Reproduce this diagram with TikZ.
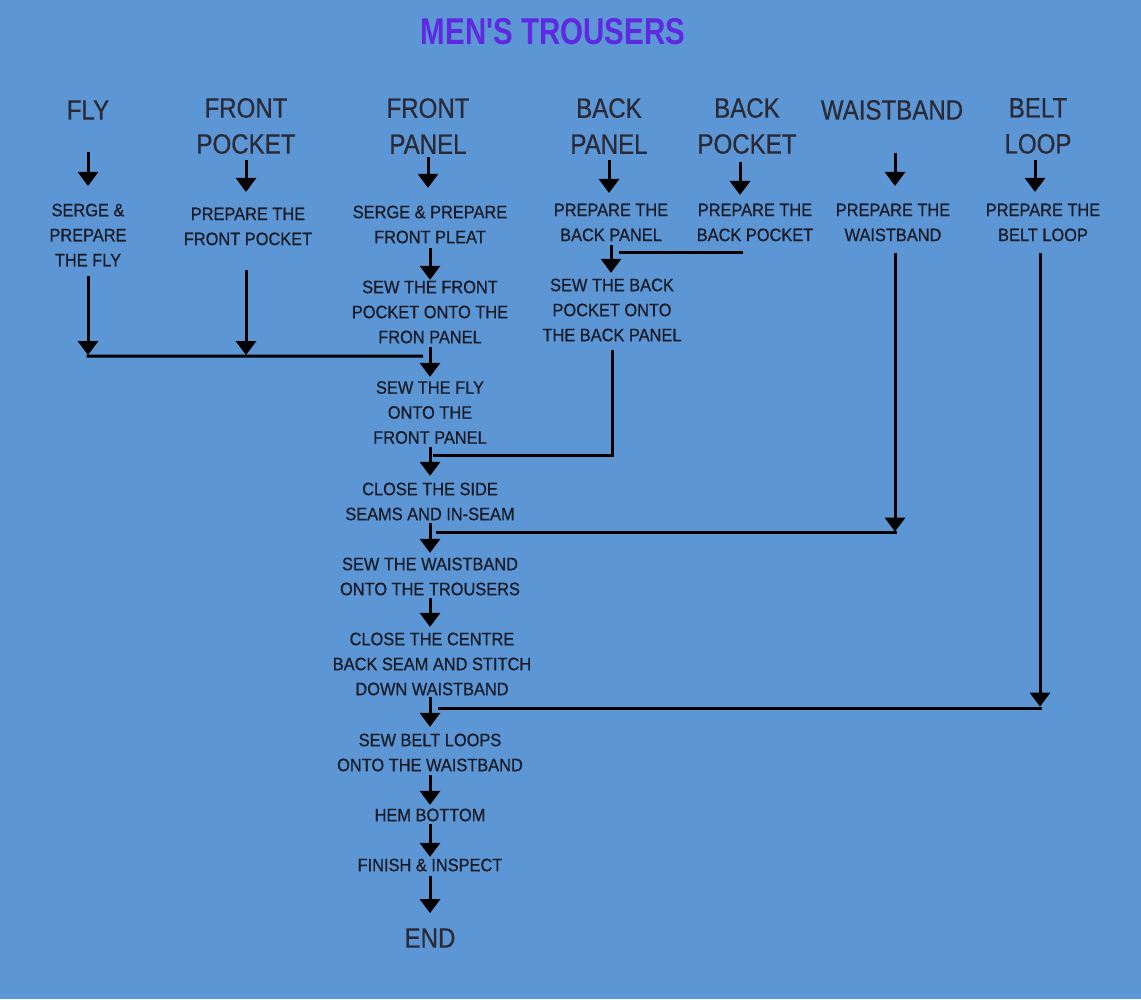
\documentclass[tikz,border=0pt]{standalone}
\usepackage{fontspec}
\usetikzlibrary{arrows.meta,calc}
\newfontfamily\stepfont[FakeStretch=0.91,FakeBold=0.6]{Liberation Sans}
\newfontfamily\headfont[FakeStretch=0.86,FakeBold=0.5]{Liberation Sans}
\newfontfamily\titlefont[FakeStretch=0.79]{Liberation Sans}
\definecolor{bg}{RGB}{92,150,212}
\definecolor{ink}{RGB}{24,26,38}
\definecolor{headink}{RGB}{42,42,54}
\definecolor{titlecol}{RGB}{95,40,225}
\begin{document}
\begin{tikzpicture}[x=0.75pt,y=-0.75pt,
  stepbox/.style={inner sep=0pt, align=center, text=ink,
    font=\stepfont\fontsize{13.5}{18.75}\selectfont},
  headbox/.style={inner sep=0pt, align=center, text=headink,
    font=\headfont\fontsize{21}{27}\selectfont},
  titlebox/.style={inner sep=0pt, text=titlecol,
    font=\titlefont\bfseries\fontsize{28}{32}\selectfont},
  arr/.style={draw=black, line width=2.25pt, -{Triangle[width=15pt,length=10.5pt]}},
  ln/.style={draw=black, line width=2.25pt}]
\fill[bg] (0,0) rectangle (1141,999);
\useasboundingbox (0,0) rectangle (1141,999);

% title
\node[titlebox] (title) at (553,32) {MEN'S TROUSERS};

% headers
\node[headbox] (hfly)  at (88,110)  {FLY};
\node[headbox] (hfp)   at (246,126) {FRONT\\POCKET};
\node[headbox] (hfpan) at (428,126) {FRONT\\PANEL};
\node[headbox] (hbp)   at (609,126) {BACK\\PANEL};
\node[headbox] (hbpk)  at (747,126) {BACK\\POCKET};
\node[headbox] (hwb)   at (892,110) {WAISTBAND};
\node[headbox] (hbl)   at (1038,126) {BELT\\LOOP};

% preparation steps
\node[stepbox] (sfly)   at (88,235)    {SERGE \&\\PREPARE\\THE FLY};
\node[stepbox] (sfp)    at (248,226.5) {PREPARE THE\\FRONT POCKET};
\node[stepbox] (spleat) at (430,224.5) {SERGE \& PREPARE\\FRONT PLEAT};
\node[stepbox] (sbp)    at (611,222.5) {PREPARE THE\\BACK PANEL};
\node[stepbox] (sbpk)   at (755,222.5) {PREPARE THE\\BACK POCKET};
\node[stepbox] (swb)    at (893,222.5) {PREPARE THE\\WAISTBAND};
\node[stepbox] (sbl)    at (1043,222.5) {PREPARE THE\\BELT LOOP};

% assembly steps
\node[stepbox] (sewfp)  at (430,312)   {SEW THE FRONT\\POCKET ONTO THE\\FRON PANEL};
\node[stepbox] (sewbp)  at (612,310)   {SEW THE BACK\\POCKET ONTO\\THE BACK PANEL};
\node[stepbox] (sewfly) at (430,412.5) {SEW THE FLY\\ONTO THE\\FRONT PANEL};
\node[stepbox] (close)  at (430,501.5) {CLOSE THE SIDE\\SEAMS AND IN-SEAM};
\node[stepbox] (sewwb)  at (430,576.5) {SEW THE WAISTBAND\\ONTO THE TROUSERS};
\node[stepbox] (centre) at (432,664)   {CLOSE THE CENTRE\\BACK SEAM AND STITCH\\DOWN WAISTBAND};
\node[stepbox] (belt)   at (430,752.5) {SEW BELT LOOPS\\ONTO THE WAISTBAND};
\node[stepbox] (hem)    at (430,815)   {HEM BOTTOM};
\node[stepbox] (finish) at (430,865)   {FINISH \& INSPECT};
\node[headbox] (end)    at (430,938)   {END};

% header arrows
\draw[arr] ($(hfly.south)+(0,32)$) -- ($(hfly.south |- sfly.north)+(0,-17.5)$);
\draw[arr] ($(hfp.south)+(0,6)$) -- ($(hfp.south |- sfp.north)+(0,-15.5)$);
\draw[arr] ($(hfpan.south)+(0,3)$) -- ($(hfpan.south |- spleat.north)+(0,-17.5)$);
\draw[arr] ($(hbp.south)+(0,6)$) -- ($(hbp.south |- sbp.north)+(0,-10.5)$);
\draw[arr] ($(hbpk.south)+(-7,8)$) -- ($(hbpk.south |- sbpk.north)+(-7,-8.5)$);
\draw[arr] ($(hwb.south)+(3,33)$) -- ($(hwb.south |- swb.north)+(3,-17.5)$);
\draw[arr] ($(hbl.south)+(-3,6)$) -- ($(hbl.south |- sbl.north)+(-3,-11.5)$);

% front panel chain
\draw[arr] ($(spleat.south)+(0,4.5)$) -- ($(sewfp.north)+(0,-0.5)$);
\draw[arr] ($(sfly.south)+(0,9.5)$) -- ($(sfly.south)+(0,88.5)$);
\draw[arr] ($(sfp.south)+(-2,24.5)$) -- ($(sfp.south)+(-2,109.5)$);
\draw[ln] ($(sfly.south)+(-1.5,89.5)$) -- ($(sewfp.south)+(-7,12.5)$);
\draw[arr] ($(sewfp.south)+(0,3.5)$) -- ($(sewfly.north)+(0,-4)$);

% back panel chain
\draw[arr] ($(sbp.south)+(0,3.5)$) -- ($(sbp.south |- sewbp.north)+(0,-5.5)$);
\draw[ln] ($(sbpk.south)+(-12,10.5)$) -- ($(sbp.south)+(8,10.5)$);
\draw[ln] ($(sewbp.south)+(0,8.5)$) |- ($(sewfly.south)+(3,11.5)$);

% main column
\draw[arr] ($(sewfly.south)+(0,3)$) -- ($(close.north)+(0,-6.5)$);
\draw[arr] ($(swb.south)+(2,11.5)$) -- ($(swb.south |- close.south)+(2,11)$);
\draw[ln] ($(swb.south |- close.south)+(3.5,12)$) -- ($(close.south)+(6,12)$);
\draw[arr] ($(close.south)+(0,2.5)$) -- ($(sewwb.north)+(0,-4.5)$);
\draw[arr] ($(sewwb.south)+(0,2.5)$) -- ($(sewwb.south |- centre.north)+(0,-5.5)$);
\draw[arr] ($(sbl.south)+(-3,11.5)$) -- ($(sbl.south |- centre.south)+(-3,11)$);
\draw[ln] ($(sbl.south |- centre.south)+(-1.5,12.5)$) -- ($(centre.south)+(6,12.5)$);
\draw[arr] ($(belt.north |- centre.south)+(0,1.5)$) -- ($(belt.north)+(0,-6.5)$);
\draw[arr] ($(belt.south)+(0,3.5)$) -- ($(hem.north)+(0,-3.5)$);
\draw[arr] ($(hem.south)+(0,2.5)$) -- ($(finish.north)+(0,-1.5)$);
\draw[arr] ($(finish.south)+(0,4.5)$) -- ($(end.north)+(0,-15)$);
\end{tikzpicture}
\end{document}
